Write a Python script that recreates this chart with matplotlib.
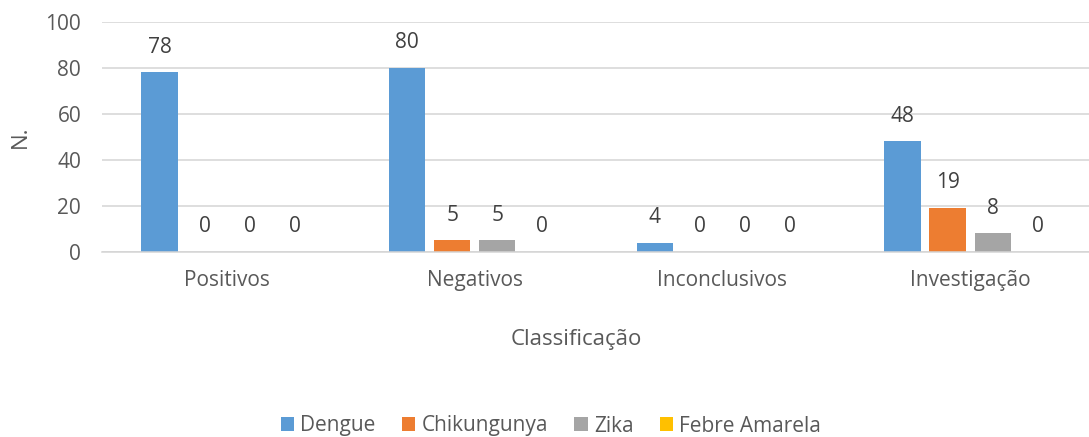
import matplotlib
matplotlib.use("Agg")
import matplotlib.pyplot as plt
import numpy as np

categories = ["Positivos", "Negativos", "Inconclusivos", "Investigação"]
series_names = ["Dengue", "Chikungunya", "Zika", "Febre Amarela"]
dengue = [78, 80, 4, 48]
chikungunya = [0, 5, 0, 19]
zika = [0, 5, 0, 8]
febre = [0, 0, 0, 0]
colors = ["#5B9BD5", "#ED7D31", "#A5A5A5", "#FFC000"]
yticks = [0, 20, 40, 60, 80, 100]

plt.rcParams['font.family'] = ['Open Sans', 'DejaVu Sans']
W, H = 1089, 437
fig = plt.figure(figsize=(W / 100, H / 100), dpi=100)
left_px, right_px, top_px, bot_px = 102, 1089, 21.7, 251.7
ax = fig.add_axes([left_px / W, 1 - bot_px / H, (right_px - left_px) / W, (bot_px - top_px) / H])

text_color = '#595959'
data = [dengue, chikungunya, zika, febre]
x = np.arange(len(categories))
step = 0.182
width = 0.146
for i, (vals, name, c) in enumerate(zip(data, series_names, colors)):
    pos = x + (i - 1.5) * step
    ax.bar(pos, vals, width, color=c, label=name, zorder=2)
    for p, v in zip(pos, vals):
        ax.annotate(str(v), (p, v), xytext=(0, 18), textcoords='offset points',
                    ha='center', va='center', fontsize=15, color='#404040')

ax.set_xlim(-0.505, 3.48)
ax.set_ylim(0, 100)
ax.set_yticks(yticks)
ax.set_xticks(x)
ax.set_xticklabels(categories)
ax.grid(axis='y', color='#D4D4D4', linewidth=1.1, zorder=0)
ax.set_axisbelow(True)
ax.tick_params(axis='both', length=0, labelsize=15, colors=text_color)
ax.tick_params(axis='y', pad=15)
ax.tick_params(axis='x', pad=13)
for s in ['top', 'right', 'left']:
    ax.spines[s].set_visible(False)
ax.spines['bottom'].set_color('#D4D4D4')
ax.spines['bottom'].set_linewidth(1.1)

fig.text(20 / W, 1 - 137 / H, "N.", rotation=90, ha='center', va='center',
         fontsize=16, color=text_color)
fig.text(576 / W, 1 - 340 / H, "Classificação", ha='center', va='center',
         fontsize=16, color=text_color)

leg = fig.legend(loc='center', bbox_to_anchor=(551 / W, 1 - 426 / H), ncol=4, frameon=False,
                 fontsize=15, handlelength=0.65, handleheight=0.65, columnspacing=1.25,
                 handletextpad=0.3, labelcolor=text_color, borderpad=0, borderaxespad=0)

fig.savefig("out.png", dpi=100)
